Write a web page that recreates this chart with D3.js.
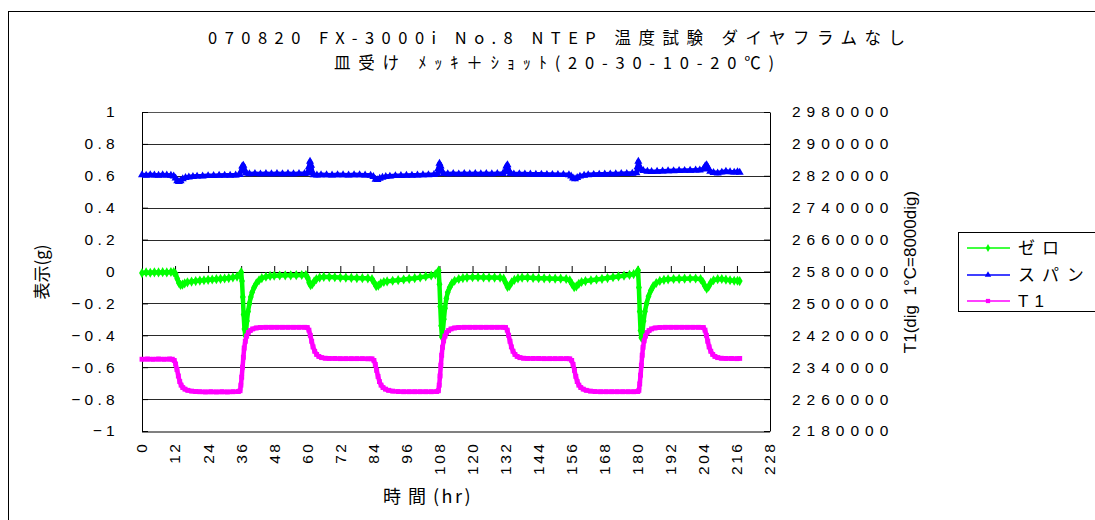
<!DOCTYPE html>
<html>
<head>
<meta charset="utf-8">
<script src="https://cdn.jsdelivr.net/npm/d3@7"></script>
<style>
  body { margin: 0; background: #fff; }
  svg { display: block; }
</style>
</head>
<body>
<svg id="chart" width="1095" height="520"></svg>
<script>
// ---- chart text ----
const titleLines = [
  "070820 FX-3000i No.8 NTEP 温度試験 ダイヤフラムなし",
  "皿受け ﾒｯｷ＋ｼｮｯﾄ(20-30-10-20℃)"
];
const xTitleParts = ["時間", "(hr)"];
const yLeftTitle = "表示(g)";
const yRightTitle = "T1(dig  1°C=8000dig)";
const seriesNames = ["ゼロ", "スパン", "T1"];

// ---- axis ticks ----
const hourTicks = [0, 12, 24, 36, 48, 60, 72, 84, 96, 108, 120, 132, 144, 156, 168, 180, 192, 204, 216, 228];
const leftTicks = [-1, -0.8, -0.6, -0.4, -0.2, 0, 0.2, 0.4, 0.6, 0.8, 1];
const rightTicks = [2180000, 2260000, 2340000, 2420000, 2500000, 2580000, 2660000, 2740000, 2820000, 2900000, 2980000];

// ---- ゼロ (zero reading, g) ----
const zeroHours = [0, 1.5, 3, 4.5, 6, 7.5, 9, 10.5, 11.5, 12.2, 12.8, 13.4, 14, 14.7, 15.5, 16.5, 18, 19.5, 21, 22.5,
  24, 25.5, 27, 28.5, 30, 31.5, 33, 34.5, 35.5, 36, 36.3, 36.6, 36.9, 37.2, 37.5, 37.8, 38.1, 38.5, 39, 39.5,
  40, 40.7, 41.5, 42.5, 43.5, 45, 46.5, 48, 50, 52, 54, 56, 58, 59.5, 60.2, 60.7, 61.2, 61.8, 62.5, 63.3,
  64.5, 66, 68, 70, 72, 74, 76, 78, 80, 82, 83.5, 84.3, 85, 85.8, 86.7, 87.8, 89, 91, 93, 95,
  97, 99, 101, 103, 105, 106.5, 107.3, 107.7, 108, 108.3, 108.6, 108.9, 109.2, 109.6, 110, 110.5, 111, 111.7, 112.5, 113.5,
  115, 116.5, 118, 120, 122, 124, 126, 128, 130, 131.3, 132, 132.7, 133.4, 134.2, 135.2, 136.5, 138, 140, 142, 144,
  146, 148, 150, 152, 154, 155.3, 156.1, 156.9, 157.7, 158.6, 159.6, 161, 163, 165, 167, 169, 171, 173, 175, 177,
  178.5, 179.6, 180.1, 180.4, 180.7, 181, 181.3, 181.7, 182.1, 182.6, 183.2, 183.9, 184.7, 185.6, 186.7, 188, 189.5, 191, 193, 195,
  197, 199, 201, 202.8, 203.6, 204.3, 205, 205.7, 206.5, 207.5, 209, 210.5, 212, 213.5, 215, 216.2, 217];
const zeroValues = [-0.010, -0.006, -0.008, -0.005, -0.006, -0.004, -0.006, -0.003, -0.004, -0.015, -0.045, -0.072, -0.084, -0.082, -0.074, -0.068, -0.063, -0.060, -0.057, -0.055,
  -0.052, -0.050, -0.048, -0.046, -0.044, -0.041, -0.037, -0.032, -0.022, -0.004, -0.06, -0.16, -0.27, -0.36, -0.40, -0.37, -0.31, -0.25, -0.20, -0.16,
  -0.13, -0.10, -0.075, -0.055, -0.042, -0.033, -0.028, -0.026, -0.025, -0.024, -0.024, -0.023, -0.022, -0.022, -0.040, -0.070, -0.086, -0.080, -0.062, -0.048,
  -0.038, -0.034, -0.035, -0.036, -0.038, -0.039, -0.040, -0.041, -0.042, -0.043, -0.048, -0.070, -0.092, -0.088, -0.074, -0.066, -0.062, -0.058, -0.054, -0.050,
  -0.046, -0.042, -0.037, -0.031, -0.025, -0.018, -0.010, 0.006, -0.08, -0.22, -0.34, -0.41, -0.38, -0.30, -0.23, -0.17, -0.13, -0.10, -0.075, -0.058,
  -0.047, -0.041, -0.038, -0.036, -0.036, -0.037, -0.038, -0.038, -0.039, -0.045, -0.070, -0.097, -0.090, -0.068, -0.052, -0.043, -0.039, -0.038, -0.040, -0.042,
  -0.043, -0.044, -0.045, -0.045, -0.047, -0.055, -0.078, -0.098, -0.093, -0.077, -0.066, -0.060, -0.055, -0.050, -0.046, -0.041, -0.036, -0.031, -0.026, -0.021,
  -0.016, -0.008, 0.008, -0.10, -0.25, -0.37, -0.415, -0.38, -0.31, -0.25, -0.20, -0.155, -0.12, -0.092, -0.072, -0.059, -0.052, -0.049, -0.047, -0.046,
  -0.045, -0.044, -0.044, -0.048, -0.065, -0.090, -0.107, -0.095, -0.070, -0.055, -0.048, -0.047, -0.051, -0.055, -0.058, -0.058, -0.060];

// ---- スパン (span reading, g) ----
const spanHours = [0, 1.5, 3, 4.5, 6, 7.5, 9, 10.5, 11.5, 12.2, 12.8, 13.4, 14, 14.8, 15.8, 17, 18.5, 20, 22, 24,
  26, 28, 30, 32, 34, 35.5, 36, 36.4, 36.8, 37.2, 37.7, 39, 41, 43, 45, 47, 49, 51, 53, 55,
  57, 59, 60.2, 60.6, 61, 61.4, 61.8, 62.3, 63.5, 65, 67, 69, 71, 73, 75, 77, 79, 81, 83, 84,
  84.8, 85.5, 86.3, 87.3, 88.5, 90, 92, 94, 96, 98, 100, 102, 104, 106, 107.2, 107.6, 108, 108.4, 108.9, 109.5,
  111, 113, 115, 117, 119, 121, 123, 125, 127, 129, 131, 131.8, 132.3, 132.7, 133.2, 133.8, 135, 137, 139, 141,
  143, 145, 147, 149, 151, 153, 155, 155.8, 156.5, 157.2, 158, 159, 160.5, 162, 164, 166, 168, 170, 172, 174,
  176, 178, 179.5, 179.9, 180.2, 180.6, 181.1, 182, 183.5, 185, 187, 189, 191, 193, 195, 197, 199, 201, 202.5, 203.8,
  204.5, 205, 205.6, 206.3, 207.5, 209, 210.5, 212, 213.5, 215, 216.2, 217];
const spanValues = [0.605, 0.603, 0.606, 0.604, 0.603, 0.605, 0.604, 0.602, 0.598, 0.585, 0.568, 0.563, 0.568, 0.580, 0.588, 0.592, 0.595, 0.597, 0.598, 0.600,
  0.601, 0.602, 0.603, 0.603, 0.604, 0.607, 0.630, 0.660, 0.665, 0.640, 0.616, 0.612, 0.613, 0.611, 0.613, 0.612, 0.613, 0.612, 0.613, 0.612,
  0.613, 0.613, 0.616, 0.655, 0.690, 0.665, 0.625, 0.606, 0.604, 0.606, 0.605, 0.604, 0.606, 0.605, 0.604, 0.606, 0.605, 0.604, 0.603, 0.595,
  0.578, 0.575, 0.583, 0.590, 0.595, 0.597, 0.600, 0.601, 0.602, 0.603, 0.604, 0.605, 0.606, 0.607, 0.612, 0.645, 0.678, 0.660, 0.628, 0.614,
  0.612, 0.613, 0.611, 0.613, 0.612, 0.613, 0.612, 0.613, 0.612, 0.613, 0.614, 0.625, 0.660, 0.668, 0.635, 0.614, 0.611, 0.612, 0.611, 0.610,
  0.609, 0.609, 0.608, 0.608, 0.607, 0.607, 0.606, 0.598, 0.585, 0.580, 0.588, 0.597, 0.603, 0.606, 0.608, 0.609, 0.610, 0.611, 0.612, 0.613,
  0.614, 0.615, 0.618, 0.655, 0.690, 0.660, 0.640, 0.632, 0.628, 0.626, 0.627, 0.629, 0.630, 0.631, 0.632, 0.633, 0.634, 0.635, 0.636, 0.642,
  0.662, 0.668, 0.645, 0.628, 0.620, 0.617, 0.622, 0.627, 0.624, 0.622, 0.625, 0.621];

// ---- T1 (temperature sensor, dig) ----
const t1Hours = [0, 2, 4, 6, 8, 10, 11, 11.7, 12.2, 12.7, 13.2, 13.7, 14.2, 14.8, 15.6, 16.6, 18, 19.5, 21, 23,
  25, 27, 29, 31, 33, 35, 35.6, 35.9, 36.2, 36.5, 36.8, 37.1, 37.5, 38, 38.6, 39.3, 40.2, 41.5, 43, 45,
  47, 49, 51, 53, 55, 57, 59, 60, 60.6, 61.1, 61.6, 62.1, 62.7, 63.4, 64.2, 65.2, 66.5, 68, 70, 72,
  74, 76, 78, 80, 82, 83.5, 84.2, 84.7, 85.2, 85.7, 86.2, 86.8, 87.5, 88.4, 89.5, 91, 93, 95, 97, 99,
  101, 103, 105, 107, 107.6, 107.9, 108.2, 108.5, 108.8, 109.1, 109.5, 110, 110.6, 111.3, 112.2, 113.5, 115, 117, 119, 121,
  123, 125, 127, 129, 131, 132, 132.6, 133.1, 133.6, 134.1, 134.7, 135.4, 136.2, 137.2, 138.5, 140, 142, 144, 146, 148,
  150, 152, 154, 155.3, 156, 156.5, 157, 157.5, 158, 158.6, 159.3, 160.2, 161.3, 162.8, 164.5, 166.5, 168.5, 170.5, 172.5, 174.5,
  176.5, 178.5, 180, 180.4, 180.7, 181, 181.3, 181.6, 181.9, 182.3, 182.8, 183.4, 184.1, 185, 186.3, 188, 190, 192, 194, 196,
  198, 200, 202, 203.8, 204.4, 204.9, 205.4, 205.9, 206.5, 207.2, 208, 209, 210.3, 212, 214, 216, 217];
const t1Values = [2360000, 2360500, 2360000, 2360500, 2360000, 2360500, 2360000, 2357000, 2348000, 2334000, 2318000, 2304000, 2295000, 2289000, 2285000, 2282000, 2280000, 2279000, 2278500, 2278000,
  2278500, 2278000, 2278500, 2278000, 2278500, 2279000, 2281000, 2295000, 2315000, 2340000, 2365000, 2388000, 2405000, 2418000, 2427000, 2432000, 2436000, 2438500, 2439500, 2440000,
  2440000, 2440000, 2440000, 2440000, 2440000, 2440000, 2440000, 2439500, 2433000, 2420000, 2405000, 2391000, 2380000, 2372000, 2367000, 2364000, 2362500, 2362000, 2362000, 2361500,
  2361500, 2361500, 2361500, 2361500, 2361000, 2361000, 2357000, 2347000, 2332000, 2317000, 2304000, 2295000, 2289000, 2285000, 2282000, 2280000, 2279000, 2278500, 2278500, 2278500,
  2278500, 2278500, 2278500, 2279000, 2281000, 2295000, 2318000, 2345000, 2370000, 2390000, 2406000, 2418000, 2427000, 2432000, 2436000, 2438500, 2439500, 2440000, 2440000, 2440000,
  2440000, 2440000, 2440000, 2440000, 2440000, 2439500, 2433000, 2420000, 2405000, 2391000, 2380000, 2372000, 2367000, 2364000, 2362500, 2362000, 2362000, 2362000, 2361500, 2361500,
  2361500, 2361500, 2361500, 2361000, 2357000, 2347000, 2332000, 2317000, 2304000, 2295000, 2289000, 2285000, 2282000, 2280000, 2279000, 2278500, 2278500, 2278500, 2278500, 2278500,
  2278500, 2278500, 2279000, 2282000, 2298000, 2320000, 2345000, 2370000, 2390000, 2406000, 2418000, 2427000, 2432000, 2436000, 2438500, 2439500, 2440000, 2440000, 2440000, 2440000,
  2440000, 2440000, 2440000, 2439500, 2433000, 2420000, 2405000, 2391000, 2380000, 2372000, 2367000, 2364000, 2362500, 2362000, 2362000, 2361500, 2362000];

// ---- layout ----
const svg = d3.select("#chart");
const plot = { left: 142, right: 770, top: 112, bottom: 431 };
const jpFont = "'Noto Sans CJK JP', 'Noto Sans', sans-serif";
const numFont = "'Liberation Sans', Arial, sans-serif";

const x = d3.scaleLinear().domain([0, 228]).range([plot.left, plot.right]);
const yL = d3.scaleLinear().domain([-1, 1]).range([plot.bottom, plot.top]);
const yR = d3.scaleLinear().domain([2180000, 2980000]).range([plot.bottom, plot.top]);

svg.append("rect").attr("width", 1095).attr("height", 520).attr("fill", "#fff");

// outer chart frame (runs past the right and bottom edges)
svg.append("rect")
  .attr("x", 8.5).attr("y", 11.5).attr("width", 1200).attr("height", 600)
  .attr("fill", "none").attr("stroke", "#000").attr("stroke-width", 1);

// title
titleLines.forEach((t, i) => {
  svg.append("text")
    .attr("x", i === 0 ? 208 : 334).attr("y", i === 0 ? 44 : 69)
    .attr("textLength", i === 0 ? 697 : 440).attr("lengthAdjust", "spacing")
    .attr("font-family", jpFont).attr("font-size", 16.5).attr("fill", "#000")
    .text(t);
});

// horizontal gridlines
const grid = svg.append("g");
leftTicks.filter(v => v !== -1 && v !== 1).forEach(v => {
  const yy = Math.round(yL(v)) + 0.5;
  grid.append("line").attr("x1", plot.left).attr("x2", plot.right)
    .attr("y1", yy).attr("y2", yy).attr("stroke", "#2a2a2a").attr("stroke-width", 1);
});
// plot area top and bottom edges
svg.append("line").attr("x1", plot.left).attr("x2", plot.right)
  .attr("y1", plot.top + 0.5).attr("y2", plot.top + 0.5).attr("stroke", "#555");
svg.append("line").attr("x1", plot.left).attr("x2", plot.right)
  .attr("y1", plot.bottom + 1).attr("y2", plot.bottom + 1).attr("stroke", "#808080").attr("stroke-width", 2);

// left axis (ticks point into the plot)
const leftFmt = v => v === 0 ? "0" : (v < 0 ? "\u2212" : "") + Math.abs(v);
const gL = svg.append("g").attr("transform", `translate(${plot.left},0)`)
  .call(d3.axisLeft(yL).tickValues(leftTicks).tickFormat(leftFmt)
    .tickSizeInner(-6).tickSizeOuter(0).tickPadding(23));
gL.selectAll("text").attr("font-family", numFont).attr("font-size", 15.5)
  .attr("letter-spacing", "4.3px").attr("fill", "#000");
gL.selectAll("line,path").attr("stroke", "#000");

// right axis
const gR = svg.append("g").attr("transform", `translate(${plot.right},0)`)
  .call(d3.axisRight(yR).tickValues(rightTicks).tickFormat(d3.format("d"))
    .tickSizeInner(-6).tickSizeOuter(0).tickPadding(22));
gR.selectAll("text").attr("font-family", numFont).attr("font-size", 15.5)
  .attr("letter-spacing", "6px").attr("fill", "#000");
gR.selectAll("line,path").attr("stroke", "#000");

// hour axis drawn along the zero line, ticks pointing up
const gX = svg.append("g").attr("transform", `translate(0,${Math.round(yL(0))})`)
  .call(d3.axisTop(x).tickValues(hourTicks).tickFormat("").tickSizeInner(6).tickSizeOuter(0));
gX.selectAll("line,path").attr("stroke", "#000");

// hour labels below the plot, rotated
const gXL = svg.append("g");
hourTicks.forEach(h => {
  gXL.append("text")
    .attr("transform", `translate(${x(h)},${444}) rotate(-90)`)
    .attr("text-anchor", "end").attr("dy", "0.35em").attr("dx", "2.5px")
    .attr("font-family", numFont).attr("font-size", 15.5)
    .attr("letter-spacing", "2.5px").attr("fill", "#000")
    .text(h);
});

// axis titles
const xt = svg.append("text").attr("x", 383).attr("y", 503)
  .attr("font-family", jpFont).attr("font-size", 18);
xt.append("tspan").attr("letter-spacing", "7px").text(xTitleParts[0]);
xt.append("tspan").attr("letter-spacing", "2.5px").text(xTitleParts[1]);

svg.append("text").attr("transform", "translate(48,272) rotate(-90)")
  .attr("text-anchor", "middle").attr("font-family", jpFont).attr("font-size", 17)
  .text(yLeftTitle);
svg.append("text").attr("transform", "translate(916,272) rotate(-90)")
  .attr("text-anchor", "middle").attr("font-family", numFont).attr("font-size", 17)
  .style("white-space", "pre")
  .text(yRightTitle);

// series
const series = [
  { name: seriesNames[0], hours: zeroHours, values: zeroValues, y: yL, color: "#00FF00", symbol: d3.symbolDiamond, size: 30 },
  { name: seriesNames[1], hours: spanHours, values: spanValues, y: yL, color: "#0000FF", symbol: d3.symbolTriangle, size: 28 },
  { name: seriesNames[2], hours: t1Hours, values: t1Values, y: yR, color: "#FF00FF", symbol: d3.symbolSquare, size: 24 }
];

series.forEach(s => {
  const pts = d3.zip(s.hours, s.values);
  const g = svg.append("g");
  g.append("path").datum(pts)
    .attr("d", d3.line().x(d => x(d[0])).y(d => s.y(d[1])))
    .attr("fill", "none").attr("stroke", s.color).attr("stroke-width", 4.5)
    .attr("stroke-linejoin", "round");
  g.selectAll("path.m").data(pts).join("path").attr("class", "m")
    .attr("transform", d => `translate(${x(d[0])},${s.y(d[1])})`)
    .attr("d", d3.symbol().type(s.symbol).size(s.size))
    .attr("fill", s.color);
});

// legend
const lg = svg.append("g");
lg.append("rect").attr("x", 958.5).attr("y", 232.5).attr("width", 200).attr("height", 79)
  .attr("fill", "#fff").attr("stroke", "#000");
series.forEach((s, i) => {
  const yy = [248, 275, 301][i];
  lg.append("line").attr("x1", 967).attr("x2", 1010).attr("y1", yy).attr("y2", yy)
    .attr("stroke", s.color).attr("stroke-width", 1.5);
  lg.append("path").attr("transform", `translate(988,${yy})`)
    .attr("d", d3.symbol().type(s.symbol).size(18)).attr("fill", s.color);
  lg.append("text").attr("x", 1018).attr("y", yy + 6)
    .attr("font-family", i === 2 ? numFont : jpFont).attr("font-size", 17)
    .attr("letter-spacing", i === 2 ? "6px" : "7px").text(s.name);
});
</script>
</body>
</html>
